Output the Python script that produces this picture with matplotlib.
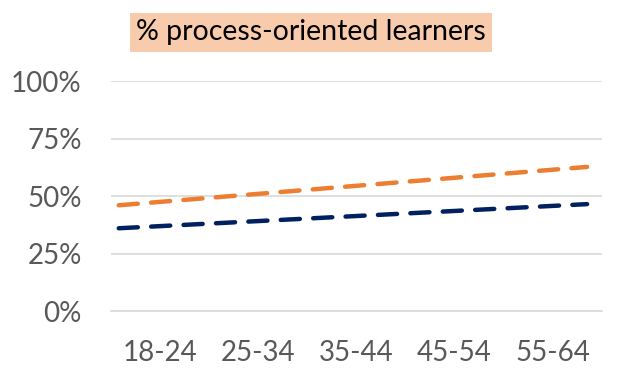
import matplotlib
matplotlib.use("Agg")
import matplotlib.pyplot as plt

plt.rcParams["font.family"] = ["Lato", "DejaVu Sans"]

# category axis
age_groups = ["18-24", "25-34", "35-44", "45-54", "55-64"]
y_ticks = [0, 25, 50, 75, 100]
y_labels = ["0%", "25%", "50%", "75%", "100%"]

# trend lines: start/end position on category axis and value in %
trend_x = [-0.42, 4.35]
orange_trend = [46.0, 62.7]
navy_trend = [36.0, 46.5]

title = "% process-oriented learners"

fig = plt.figure(figsize=(6.23, 3.81), dpi=100)
ax = fig.add_axes([0.178, 0.1837, 0.788, 0.6033])

ax.plot(trend_x, orange_trend, color="#ED7D31", lw=3.2, ls=(0, (4.3, 3.0)),
        dash_capstyle="round", zorder=3)
ax.plot(trend_x, navy_trend, color="#002060", lw=3.2, ls=(0, (4.3, 3.0)),
        dash_capstyle="round", zorder=3)

ax.set_xlim(-0.5, 4.5)
ax.set_ylim(0, 100)
ax.set_xticks(range(len(age_groups)))
ax.set_xticklabels(age_groups)
ax.set_yticks(y_ticks)
ax.set_yticklabels(y_labels)
ax.tick_params(length=0, labelsize=20, colors="#595959")
ax.tick_params(axis="y", pad=21)
ax.tick_params(axis="x", pad=21)
ax.grid(axis="y", color="#d9d9d9", lw=1.2)
ax.set_axisbelow(True)
for s in ["top", "right", "left"]:
    ax.spines[s].set_visible(False)
ax.spines["bottom"].set_color("#d9d9d9")
ax.spines["bottom"].set_linewidth(1.2)

fig.text(0.499, 0.915, title, ha="center", va="center", fontsize=20.5, color="black",
         bbox=dict(boxstyle="square,pad=0.22", fc="#F8CBAD", ec="none"))

fig.savefig("out.png", dpi=100)
